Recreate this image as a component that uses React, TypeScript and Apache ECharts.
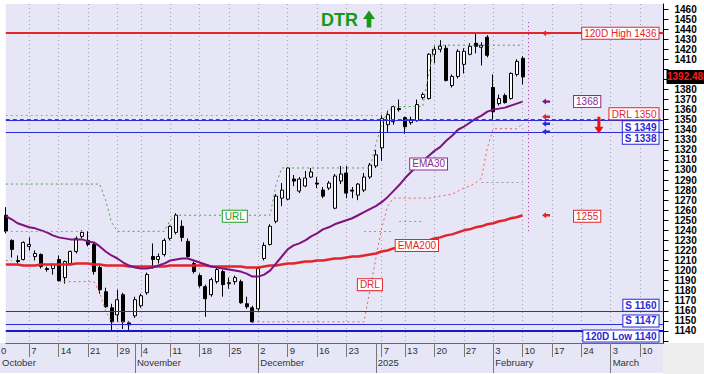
import React, { useEffect, useRef } from "react";
import * as echarts from "echarts";

// ---------- axis data ----------
const FIRST_DAY = "2024-10-01";
const LAST_DAY = "2025-03-14";
const HOLIDAYS = ["2024-10-28", "2024-12-25", "2024-12-26", "2025-01-01", "2025-01-03", "2025-01-06"];
const WEEK_LABEL_DATES = [
  "2024-10-07", "2024-10-14", "2024-10-21", "2024-10-29", "2024-11-04", "2024-11-11", "2024-11-18",
  "2024-11-25", "2024-12-02", "2024-12-09", "2024-12-16", "2024-12-23", "2025-01-07", "2025-01-13",
  "2025-01-20", "2025-01-27", "2025-02-03", "2025-02-10", "2025-02-17", "2025-02-24", "2025-03-03",
  "2025-03-10",
];
const MONTH_STARTS = ["2024-11-01", "2024-12-02", "2025-01-02", "2025-02-03", "2025-03-03"];
const MONTH_NAMES = ["November", "December", "2025", "February", "March"];
// 1390 and 1400 sit under the last-price tag, as in the reference
const Y_LABELS = [
  1140, 1150, 1160, 1170, 1180, 1190, 1200, 1210, 1220, 1230, 1240, 1250, 1260, 1270, 1280, 1290, 1300,
  1310, 1320, 1330, 1340, 1350, 1360, 1370, 1380, 1410, 1420, 1430, 1440, 1450, 1460,
];
const Y_TICKS = [
  1130, 1140, 1150, 1160, 1170, 1180, 1190, 1200, 1210, 1220, 1230, 1240, 1250, 1260, 1270, 1280, 1290,
  1300, 1310, 1320, 1330, 1340, 1350, 1360, 1370, 1380, 1390, 1400, 1410, 1420, 1430, 1440, 1450, 1460,
];

// ---------- price data (Oct 1 .. Feb 10) ----------
const OPEN = [
  1255, 1230, 1210, 1211, 1224, 1214, 1216, 1202, 1202, 1211, 1193, 1207, 1219, 1234, 1230, 1226, 1203, 1179, 1163, 1156,
  1176, 1148, 1155, 1165, 1178, 1214, 1211, 1216, 1232, 1238, 1244, 1229, 1207, 1195, 1184, 1176, 1189, 1199, 1187, 1189,
  1189, 1167, 1163, 1162, 1212, 1226, 1249, 1272, 1271, 1291, 1279, 1284, 1293, 1287, 1280, 1282, 1262, 1289, 1297, 1280,
  1275, 1280, 1293, 1304, 1322, 1345, 1348, 1361, 1352, 1347, 1349, 1372, 1371, 1415, 1420, 1421, 1384, 1393, 1405, 1415,
  1426, 1422, 1432, 1382, 1366, 1374, 1371, 1395, 1411,
];
const HIGH = [
  1263, 1231, 1215, 1229, 1233, 1220, 1217, 1204, 1207, 1215, 1210, 1220, 1234, 1240, 1239, 1228, 1205, 1183, 1167, 1181,
  1178, 1150, 1174, 1177, 1198, 1227, 1217, 1232, 1245, 1257, 1250, 1232, 1209, 1197, 1186, 1193, 1203, 1201, 1193, 1195,
  1191, 1174, 1165, 1204, 1228, 1246, 1276, 1287, 1303, 1295, 1293, 1299, 1302, 1293, 1283, 1289, 1296, 1304, 1304, 1283,
  1287, 1297, 1307, 1320, 1355, 1359, 1364, 1370, 1353, 1353, 1370, 1377, 1416, 1423, 1429, 1424, 1395, 1420, 1421, 1426,
  1436, 1427, 1434, 1395, 1375, 1376, 1397, 1410, 1413,
];
const LOW = [
  1237, 1213, 1207, 1210, 1220, 1210, 1202, 1199, 1196, 1189, 1187, 1205, 1217, 1232, 1224, 1196, 1177, 1163, 1140, 1149,
  1142, 1141, 1153, 1163, 1176, 1202, 1207, 1214, 1230, 1236, 1229, 1212, 1197, 1183, 1154, 1174, 1187, 1174, 1182, 1186,
  1167, 1162, 1148, 1160, 1210, 1225, 1247, 1264, 1270, 1284, 1277, 1283, 1292, 1282, 1272, 1280, 1261, 1286, 1272, 1272,
  1270, 1278, 1291, 1302, 1309, 1337, 1345, 1358, 1336, 1345, 1348, 1370, 1370, 1406, 1417, 1388, 1382, 1391, 1396, 1414,
  1416, 1404, 1412, 1350, 1364, 1366, 1370, 1393, 1385,
];
const CLOSE = [
  1239, 1221, 1209, 1228, 1226, 1217, 1204, 1201, 1206, 1190, 1209, 1219, 1232, 1238, 1226, 1199, 1181, 1164, 1149, 1171,
  1149, 1146, 1171, 1175, 1196, 1211, 1214, 1230, 1244, 1255, 1233, 1214, 1199, 1185, 1172, 1191, 1201, 1186, 1188, 1193,
  1168, 1164, 1149, 1202, 1225, 1244, 1274, 1280, 1302, 1289, 1291, 1292, 1298, 1286, 1274, 1287, 1294, 1296, 1277, 1279,
  1286, 1293, 1305, 1315, 1351, 1355, 1363, 1360, 1343, 1350, 1365, 1375, 1415, 1420, 1423, 1389, 1393, 1418, 1418, 1423,
  1423, 1424, 1414, 1358, 1371, 1367, 1396, 1408, 1392.48,
];
const EMA30 = [
  1254, 1251, 1247, 1245, 1243, 1242, 1240, 1238, 1235, 1233, 1232, 1231, 1231, 1231, 1229, 1228, 1224, 1219, 1215, 1212,
  1208, 1205, 1203, 1202, 1202, 1203, 1205, 1207, 1210, 1211, 1212, 1212, 1210, 1208, 1206, 1204, 1203, 1202, 1201, 1200,
  1199, 1197, 1194, 1194, 1196, 1200, 1207, 1214, 1221, 1225, 1227, 1230, 1234, 1237, 1241, 1243, 1246, 1248, 1250, 1252,
  1255, 1258, 1261, 1264, 1268, 1273, 1279, 1285, 1292, 1298, 1304, 1309, 1314, 1319, 1323, 1329, 1334, 1340, 1343, 1347,
  1351, 1354, 1358, 1360, 1361, 1362, 1364, 1366, 1368,
];
const EMA200 = [
  1206, 1206, 1206, 1205, 1205, 1205, 1206, 1206, 1206, 1206, 1206, 1206, 1207, 1207, 1207, 1206, 1206, 1205, 1205, 1205,
  1205, 1204, 1204, 1204, 1204, 1204, 1204, 1204, 1205, 1205, 1205, 1205, 1205, 1205, 1205, 1204, 1204, 1204, 1204, 1204,
  1204, 1203, 1203, 1203, 1204, 1205, 1205, 1206, 1207, 1207, 1208, 1209, 1209, 1210, 1210, 1211, 1212, 1212, 1213, 1214,
  1214, 1215, 1216, 1217, 1219, 1220, 1222, 1223, 1224, 1226, 1227, 1229, 1230, 1232, 1233, 1235, 1236, 1238, 1240, 1241,
  1243, 1244, 1246, 1247, 1249, 1250, 1252, 1253, 1255,
];
const URL_LINE = [
  1286, 1286, 1286, 1286, 1286, 1286, 1286, 1286, 1286, 1286, 1286, 1286, 1286, 1286, 1286, 1286, 1286, 1270, 1248, 1239,
  1239, 1239, 1239, 1239, 1239, 1239, 1239, 1239, 1250, 1255, 1255, 1255, 1255, 1255, 1255, 1255, 1255, 1255, 1255, 1255,
  1255, 1255, 1255, 1255, 1255, 1255, 1285, 1302, 1302, 1302, 1302, 1302, 1302, 1302, 1302, 1302, 1302, 1302, 1302, 1302,
  1302, 1302, 1302, 1325, 1345, 1358, 1363, 1363, 1363, 1363, 1363, 1363, 1395, 1424, 1424, 1424, 1424, 1424, 1424, 1424,
  1424, 1424, 1424, 1424, 1424, 1424, 1424, 1424, 1424,
];
const N = null;
const DRL_LINE = [
  1210, 1210, N, N, N, N, N, N, N, 1189, 1189, 1189, 1189, 1189, 1189, 1189, 1178, 1160, 1149, 1149,
  1149, 1149, N, N, N, N, N, N, N, N, N, N, N, N, N, N, N, N, N, N,
  N, N, 1149, 1149, 1149, 1149, 1149, 1149, 1149, 1149, 1149, 1149, 1149, 1149, 1149, 1149, 1149, 1149, 1149, 1149,
  1149, 1149, 1180, 1212, 1242, 1264, 1272, 1272, 1272, 1272, 1272, 1272, 1272, 1273, 1274, 1275, 1276, 1279, 1282, 1284,
  1287, 1292, 1322, 1341, 1341, 1341, 1341, 1341, 1346,
];
// [start index, end index, value]
const GREY_GUIDES = [[0, 13, 1239], [61, 66, 1239], [67, 71, 1249], [81, 88, 1288]];
const PINK_GUIDES = [[0, 64, 1354]];

// ---------- levels ----------
const HIGH_120D = 1436;
const LOW_120D = 1140;
const DRL_LEVEL = 1350;
const SUPPORTS = [1349, 1338, 1160, 1147];
const EMA30_LAST = 1368;
const EMA200_LAST = 1255;
const LAST_PRICE = 1392.48;

const FONT = '"Liberation Sans", Arial, sans-serif';
const RED = "#e3242a";
const BLUE = "#2a2ad8";
const PURPLE = "#7f127f";
const GREEN = "#22a022";

function buildDays(): string[] {
  const out: string[] = [];
  const d = new Date(FIRST_DAY + "T00:00:00Z");
  const end = new Date(LAST_DAY + "T00:00:00Z").getTime();
  while (d.getTime() <= end) {
    const wd = d.getUTCDay();
    const iso = d.toISOString().slice(0, 10);
    if (wd !== 0 && wd !== 6 && HOLIDAYS.indexOf(iso) < 0) out.push(iso);
    d.setUTCDate(d.getUTCDate() + 1);
  }
  return out;
}

export default function App() {
  const ref = useRef<HTMLDivElement>(null);
  useEffect(() => {
    const el = ref.current!;
    const chart = echarts.init(el, undefined, { renderer: "svg" });
    const days = buildDays();
    const last = days.length - 1;
    const weekSet = new Set(WEEK_LABEL_DATES);
    const monthMap = new Map<string, string>(MONTH_STARTS.map((d, i) => [d, MONTH_NAMES[i]] as [string, string]));
    const candles = OPEN.map((o, i) => [o, CLOSE[i], LOW[i], HIGH[i]]);

    const seg = (s: number, e: number, v: number, style: any) => [
      { coord: [s, v], lineStyle: style },
      { coord: [e, v] },
    ];
    const dotted = (color: string) => ({ color, width: 1, type: [2, 3] });

    const option: any = {
      animation: false,
      backgroundColor: "#ffffff",
      grid: {
        left: 5.8,
        right: 40.5,
        top: 4,
        bottom: 31,
        show: true,
        backgroundColor: "#e6e6f6",
        borderWidth: 0,
      },
      xAxis: [
        {
          type: "category",
          data: days,
          boundaryGap: false,
          axisLine: { show: true, lineStyle: { color: "#666", width: 1 } },
          axisTick: {
            show: true,
            length: 14,
            interval: (_i: number, v: string) => weekSet.has(v),
            lineStyle: { color: "#777" },
          },
          axisLabel: {
            interval: (_i: number, v: string) => weekSet.has(v),
            formatter: (v: string) => (weekSet.has(v) ? String(Number(v.slice(8))) : ""),
            align: "left",
            margin: 2,
            padding: [0, 0, 0, 2],
            fontSize: 9.5,
            fontFamily: FONT,
            color: "#333",
          },
          splitLine: {
            show: true,
            interval: (_i: number, v: string) => weekSet.has(v),
            lineStyle: { color: "#a2a2b6", width: 1, type: [1, 3] },
          },
        },
        {
          type: "category",
          data: days,
          boundaryGap: false,
          position: "bottom",
          axisLine: { show: false },
          axisTick: {
            show: true,
            length: 30,
            interval: (_i: number, v: string) => monthMap.has(v),
            lineStyle: { color: "#777" },
          },
          axisLabel: {
            interval: (_i: number, v: string) => monthMap.has(v),
            formatter: (v: string) => monthMap.get(v) || "",
            align: "left",
            margin: 14.5,
            padding: [0, 0, 0, 2],
            fontSize: 9.5,
            fontFamily: FONT,
            color: "#333",
          },
          splitLine: { show: false },
        },
      ],
      yAxis: {
        type: "value",
        position: "right",
        min: 1128,
        max: 1465,
        axisLine: { show: true, lineStyle: { color: "#000", width: 1 } },
        axisTick: { show: true, length: 5, customValues: Y_TICKS, lineStyle: { color: "#000" } },
        axisLabel: {
          customValues: Y_LABELS,
          formatter: (v: number) => String(v),
          fontSize: 10,
          lineHeight: 9,
          fontWeight: "bold",
          fontFamily: FONT,
          color: "#000",
          margin: 11,
        },
        splitLine: { show: false },
      },
      series: [
        {
          type: "candlestick",
          xAxisIndex: 0,
          data: candles,
          barWidth: 3.5,
          itemStyle: {
            color: "#ffffff",
            color0: "#000000",
            borderColor: "#000000",
            borderColor0: "#000000",
            borderWidth: 1,
          },
          markLine: {
            silent: true,
            symbol: ["none", "none"],
            label: { show: false },
            data: [
              { yAxis: HIGH_120D, lineStyle: { color: RED, width: 2, type: "solid" } },
              { yAxis: SUPPORTS[0], lineStyle: { color: BLUE, width: 1.2, type: "solid" } },
              { yAxis: DRL_LEVEL, lineStyle: { color: "#c0183a", width: 1.2, type: [4, 3] } },
              { yAxis: SUPPORTS[1], lineStyle: { color: BLUE, width: 1, type: "solid" } },
              { yAxis: SUPPORTS[2], lineStyle: { color: BLUE, width: 1, type: "solid" } },
              { yAxis: SUPPORTS[3], lineStyle: { color: BLUE, width: 1, type: "solid" } },
              { yAxis: LOW_120D, lineStyle: { color: "#1818c8", width: 2, type: "solid" } },
              ...GREY_GUIDES.map((g) => seg(g[0], g[1], g[2], dotted("#9a9aaa"))),
              ...PINK_GUIDES.map((g) => seg(g[0], g[1], g[2], dotted("#e48a8a"))),
              [
                { coord: [89, 1447], lineStyle: { color: "#9a3a9a", width: 1, type: [1, 3] } },
                { coord: [89, 1237] },
              ],
            ],
          },
        },
        {
          type: "line",
          name: "URL",
          data: URL_LINE,
          symbol: "none",
          connectNulls: false,
          lineStyle: dotted("#4e9e4e"),
          silent: true,
        },
        {
          type: "line",
          name: "DRL",
          data: DRL_LINE,
          symbol: "none",
          connectNulls: false,
          lineStyle: dotted("#e06262"),
          silent: true,
        },
        {
          type: "line",
          name: "EMA200",
          data: EMA200,
          symbol: "none",
          lineStyle: { color: RED, width: 2.5 },
          silent: true,
        },
        {
          type: "line",
          name: "EMA30",
          data: EMA30,
          symbol: "none",
          lineStyle: { color: PURPLE, width: 2 },
          silent: true,
        },
      ],
    };
    chart.setOption(option);

    const P = (i: number, v: number): number[] => chart.convertToPixel({ gridIndex: 0 }, [i, v]) as number[];
    const bottomY = P(0, 1128)[1];
    const rightX = P(last, 1128)[0];
    const xr = rightX - 5;

    const box = (text: string, x: number, y: number, color: string, align: string, vAlign: string, bold = false) => ({
      type: "text",
      x,
      y,
      z: 100,
      silent: true,
      style: {
        text,
        fill: color,
        fontSize: 10,
        lineHeight: 10,
        fontFamily: FONT,
        fontWeight: bold ? "bold" : "normal",
        backgroundColor: "#ffffff",
        borderColor: color,
        borderWidth: 1,
        padding: [1, 2, 0, 2],
        align,
        verticalAlign: vAlign,
      },
    });
    const leftArrow = (cx: number, cy: number, color: string) => ({
      type: "polygon",
      z: 100,
      silent: true,
      shape: {
        points: [
          [cx - 4, cy],
          [cx, cy - 3],
          [cx, cy - 1.2],
          [cx + 4, cy - 1.2],
          [cx + 4, cy + 1.2],
          [cx, cy + 1.2],
          [cx, cy + 3],
        ],
      },
      style: { fill: color },
    });

    const aX = P(92, 0)[0];
    const dX = P(101, 0)[0];
    const dTop = P(101, DRL_LEVEL)[1] - 3;
    const dBot = P(101, 1336)[1];
    const priceY = P(0, LAST_PRICE)[1];

    const graphic: any[] = [
      {
        type: "rect",
        z: -10,
        silent: true,
        shape: { x: 0, y: bottomY, width: rightX, height: 30 },
        style: { fill: "#e6e6f6" },
      },
      {
        type: "rect",
        z: -10,
        silent: true,
        shape: { x: rightX, y: bottomY, width: 704 - rightX, height: 31 },
        style: { fill: "#eeeeee" },
      },
      {
        type: "text",
        x: 1,
        y: bottomY + 2,
        silent: true,
        style: { text: "0", fill: "#333", fontSize: 9.5, fontFamily: FONT, verticalAlign: "top" },
      },
      {
        type: "text",
        x: 2,
        y: bottomY + 14.5,
        silent: true,
        style: { text: "October", fill: "#333", fontSize: 9.5, fontFamily: FONT, verticalAlign: "top" },
      },
      // title
      {
        type: "text",
        x: 321,
        y: 20,
        silent: true,
        style: {
          text: "DTR",
          fill: "#169a16",
          fontSize: 18,
          fontWeight: "bold",
          fontFamily: FONT,
          verticalAlign: "middle",
        },
      },
      {
        type: "polygon",
        silent: true,
        shape: {
          points: [
            [363, 19],
            [369, 10.5],
            [375, 19],
            [371.3, 19],
            [371.3, 27.5],
            [366.7, 27.5],
            [366.7, 19],
          ],
        },
        style: { fill: "#169a16" },
      },
      // level boxes
      box("120D High " + HIGH_120D, xr, P(0, HIGH_120D)[1], RED, "right", "middle"),
      box("DRL " + DRL_LEVEL, xr, P(0, DRL_LEVEL)[1] - 0.5, RED, "right", "bottom"),
      box("S " + SUPPORTS[0], xr, P(0, SUPPORTS[0])[1] + 0.5, BLUE, "right", "top", true),
      box("S " + SUPPORTS[1], xr, P(0, SUPPORTS[1])[1] + 1, BLUE, "right", "top", true),
      box("S " + SUPPORTS[2], xr, P(0, SUPPORTS[2])[1], BLUE, "right", "bottom", true),
      box("S " + SUPPORTS[3], xr, P(0, SUPPORTS[3])[1] - 3, BLUE, "right", "middle", true),
      box("120D Low " + LOW_120D, xr, P(0, LOW_120D)[1] - 0.5, BLUE, "right", "top", true),
      box(String(EMA30_LAST), P(99, 0)[0], P(0, EMA30_LAST)[1], "#8e2a8e", "center", "middle"),
      box(String(EMA200_LAST), P(99, 0)[0], P(0, EMA200_LAST - 1)[1], RED, "center", "middle"),
      // line name boxes
      box("EMA30", P(72, 0)[0], P(0, 1306)[1], "#8e2a8e", "center", "middle"),
      box("EMA200", P(70, 0)[0], P(0, 1225)[1], RED, "center", "middle"),
      box("URL", P(39.4, 0)[0], P(0, 1254)[1], GREEN, "center", "middle"),
      box("DRL", P(62.4, 0)[0], P(0, 1186)[1], RED, "center", "middle"),
      // arrows
      leftArrow(aX, P(0, HIGH_120D)[1], RED),
      leftArrow(aX, P(0, EMA30_LAST)[1], PURPLE),
      leftArrow(aX, P(0, DRL_LEVEL)[1] - 3, RED),
      leftArrow(aX, P(0, SUPPORTS[0])[1] + 3, BLUE),
      leftArrow(aX, P(0, SUPPORTS[1])[1], BLUE),
      leftArrow(aX, P(0, EMA200_LAST)[1], RED),
      {
        type: "polygon",
        z: 100,
        silent: true,
        shape: {
          points: [
            [dX - 1.5, dTop],
            [dX + 1.5, dTop],
            [dX + 1.5, dBot - 7],
            [dX + 4.5, dBot - 7],
            [dX, dBot],
            [dX - 4.5, dBot - 7],
            [dX - 1.5, dBot - 7],
          ],
        },
        style: { fill: "#e81010" },
      },
      // last price tag
      {
        type: "rect",
        z: 100,
        silent: true,
        shape: { x: rightX + 3, y: priceY - 7, width: 50, height: 14 },
        style: { fill: "#000000" },
      },
      {
        type: "text",
        z: 101,
        silent: true,
        x: rightX + 3.5,
        y: priceY,
        style: {
          text: String(LAST_PRICE),
          fill: "#ff1a1a",
          fontSize: 10,
          fontWeight: "bold",
          fontFamily: FONT,
          verticalAlign: "middle",
        },
      },
    ];
    chart.setOption({ graphic });

    return () => chart.dispose();
  }, []);

  return <div ref={ref} style={{ position: "fixed", left: 0, top: 0, width: 704, height: 374 }} />;
}
